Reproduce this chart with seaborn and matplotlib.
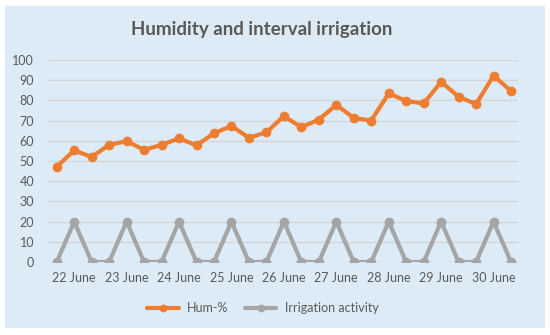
import numpy as np
import pandas as pd
import seaborn as sns
import matplotlib.pyplot as plt
from matplotlib.patches import Rectangle

# Readings every 8 hours, 22-30 June
humidity = [47.2, 55.2, 52.0, 58.0, 59.8, 55.5, 58.0, 61.2, 57.7,
            63.8, 67.3, 61.5, 64.2, 72.2, 66.7, 70.5, 77.8, 71.3,
            70.0, 83.5, 79.7, 78.5, 89.2, 81.8, 78.2, 92.2, 84.7]
irrigation = [0, 20, 0, 0, 20, 0, 0, 20, 0, 0, 20, 0, 0, 20, 0, 0, 20, 0,
              0, 20, 0, 0, 20, 0, 0, 20, 0]
day_labels = ["22 June", "23 June", "24 June", "25 June", "26 June",
              "27 June", "28 June", "29 June", "30 June"]

df = pd.DataFrame({
    "step": np.arange(len(humidity)),
    "Hum-%": humidity,
    "Irrigation activity": irrigation,
})
long = df.melt(id_vars="step", var_name="series", value_name="value")

sns.set_style("white")
plt.rcParams["font.family"] = ["Lato", "DejaVu Sans"]

text_col = "#595959"
bg = "#DDEBF7"

fig = plt.figure(figsize=(5.5, 3.35), dpi=100)
fig.patches.append(Rectangle((5 / 550, 7 / 335), 540 / 550, 322 / 335,
                             transform=fig.transFigure, facecolor=bg,
                             edgecolor="none", zorder=0))
ax = fig.add_axes([48 / 550, 1 - 262 / 335, 470 / 550, 202 / 335])
ax.set_facecolor("none")
ax.set_zorder(2)

sns.lineplot(data=long, x="step", y="value", hue="series",
             palette={"Hum-%": "#ED7D31", "Irrigation activity": "#A5A5A5"},
             marker="o", markersize=7, markeredgewidth=0, linewidth=3,
             ax=ax)

ax.set_xlim(-0.5, 26.4)
ax.set_ylim(0, 100)
ax.set_yticks(range(0, 101, 10))
ax.set_xticks(range(1, 27, 3))
ax.set_xticklabels(day_labels)
ax.tick_params(axis="both", length=0, labelsize=9, colors=text_col)
ax.tick_params(axis="x", pad=7)
ax.tick_params(axis="y", pad=10)
ax.grid(axis="y", color="#D3D6D8", linewidth=1)
ax.set_axisbelow(True)
for s in ax.spines.values():
    s.set_visible(False)
ax.set_xlabel("")
ax.set_ylabel("")

title = fig.text(262 / 550, 1 - 30 / 335, "Humidity and interval irrigation",
                 ha="center", va="center", fontsize=13.5, fontweight="bold",
                 color=text_col)
title.set_zorder(3)

handles, labels = ax.get_legend_handles_labels()
ax.legend(handles, labels, loc="center", bbox_to_anchor=(263 / 550, 1 - 308 / 335),
          bbox_transform=fig.transFigure, ncol=2, frameon=False,
          fontsize=9, labelcolor=text_col, handlelength=2.5,
          handletextpad=0.7, columnspacing=1.3, markerscale=0.8)

fig.savefig("out.png", dpi=100)
